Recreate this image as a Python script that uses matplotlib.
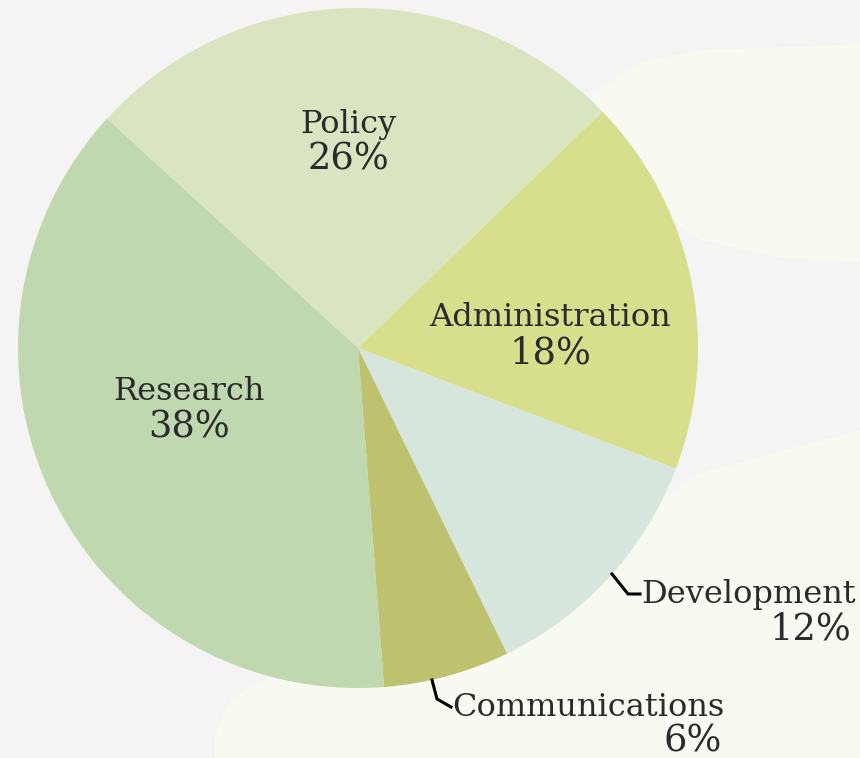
import numpy as np
import matplotlib as mpl
import matplotlib.pyplot as plt
from matplotlib.patches import Polygon

mpl.rcParams['font.family'] = ['DejaVu Serif']

#==============================================================================
# Budget shares (clockwise from the Research/Policy boundary)
categories = ['Policy', 'Administration', 'Development', 'Communications', 'Research']
shares = [26, 18, 12, 6, 38]
colors = ['#d9e5c0', '#d7df8c', '#d6e6dc', '#bec16e', '#bfd8b0']
#==============================================================================

W, H = 860, 758
fig = plt.figure(figsize=(W / 100, H / 100), dpi=100)
fig.patch.set_facecolor('#f5f3f3')
ax = fig.add_axes([0, 0, 1, 1])


def flip(pts):
    # points measured from the top-left corner -> axes coords
    return [[x, H - y] for x, y in pts]


# faint leaf shapes in the background
leaf = '#f8f9f0'
ax.add_patch(Polygon(flip([(590, 95), (640, 62), (700, 50), (860, 44), (860, 262),
                           (780, 258), (700, 240), (640, 200)]),
                     closed=True, fc=leaf, ec='none', zorder=0))
ax.add_patch(Polygon(flip([(215, 758), (215, 735), (230, 700), (260, 680), (450, 650),
                           (600, 540), (700, 473), (860, 430), (860, 758)]),
                     closed=True, fc=leaf, ec='none', zorder=0))

cx, cy, r = 358, 410, 340
wedges, _ = ax.pie(shares, colors=colors, startangle=137.6, counterclock=False,
                   center=(cx, cy), radius=r, frame=True,
                   wedgeprops=dict(linewidth=0))
ax.set_xlim(0, W)
ax.set_ylim(0, H)
ax.axis('off')

txt = dict(color='#2b2b2b')
lsize, psize = 23, 26.5

# labels inside the wedges (centre of the two-line block)
inside = {'Policy': (348, 616), 'Administration': (550, 423), 'Research': (189, 349)}
for name, val in zip(categories, shares):
    if name in inside:
        x, y = inside[name]
        ax.text(x, y + 17, name, ha='center', va='center', fontsize=lsize, **txt)
        ax.text(x, y - 18, '%d%%' % val, ha='center', va='center', fontsize=psize, **txt)

# labels outside with leader lines
outside = {'Development': ((612, 184), (628, 164), (640, 164), (851, 128)),
           'Communications': ((432, 78), (437, 59), (451, 51), (722, 17))}
for name, val in zip(categories, shares):
    if name in outside:
        p0, p1, p2, p3 = outside[name]
        ax.plot([p0[0], p1[0], p2[0]], [p0[1], p1[1], p2[1]], color='black', lw=2.2,
                solid_joinstyle='miter')
        ax.text(p2[0] + 1, p2[1], name, ha='left', va='center', fontsize=lsize, **txt)
        ax.text(p3[0], p3[1], '%d%%' % val, ha='right', va='center', fontsize=psize, **txt)

plt.savefig('out.png', dpi=100, facecolor=fig.get_facecolor())
